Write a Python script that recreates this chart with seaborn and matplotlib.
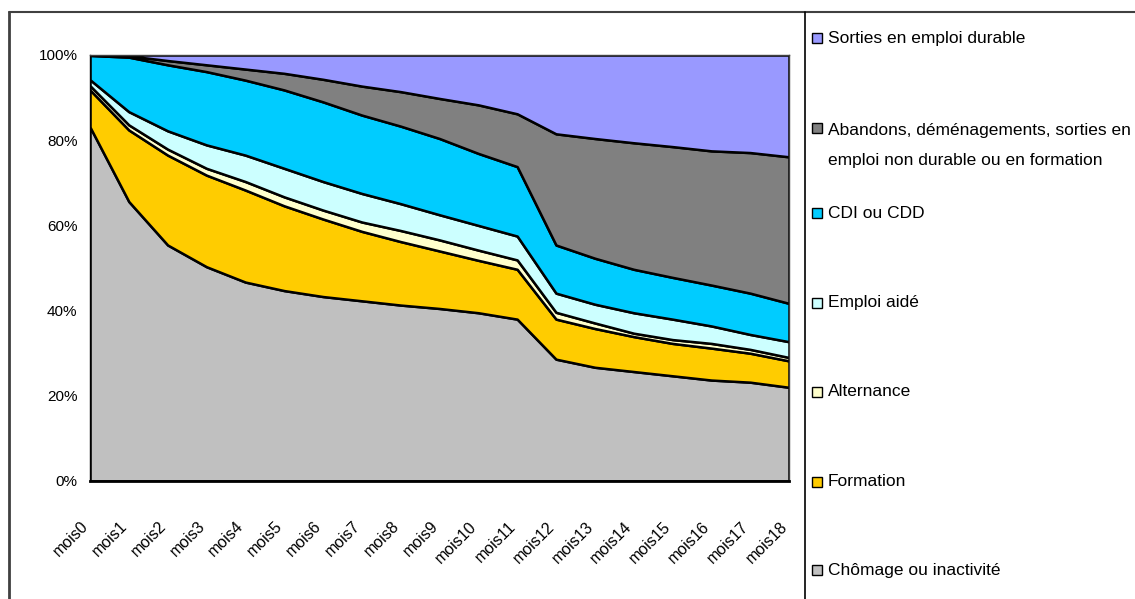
import matplotlib
matplotlib.use("Agg")
import matplotlib.pyplot as plt
import matplotlib.patches as mpatches
import matplotlib.transforms as mtransforms
from matplotlib.lines import Line2D
from matplotlib.ticker import PercentFormatter
import pandas as pd
import seaborn as sns

mois = ["mois" + str(i) for i in range(19)]

# parts en % (empilées du bas vers le haut)
chomage = [83.1, 65.6, 55.4, 50.3, 46.7, 44.7, 43.3, 42.3, 41.3, 40.5, 39.5, 38.0,
           28.6, 26.7, 25.7, 24.7, 23.7, 23.2, 22.0]
formation = [8.7, 16.8, 21.1, 21.5, 21.6, 19.9, 18.2, 16.3, 14.9, 13.5, 12.3, 11.7,
             9.4, 9.1, 8.2, 7.6, 7.5, 6.8, 6.2]
alternance = [1.0, 1.2, 1.4, 1.6, 2.0, 2.1, 2.1, 2.2, 2.6, 2.6, 2.4, 2.2,
              1.6, 1.3, 0.8, 0.9, 1.1, 0.9, 0.8]
emploi_aide = [1.4, 3.1, 4.3, 5.5, 6.2, 6.7, 6.7, 6.7, 6.3, 5.9, 5.8, 5.6,
               4.5, 4.4, 4.8, 4.8, 4.1, 3.5, 3.7]
cdi_cdd = [5.7, 12.8, 15.5, 17.2, 17.6, 18.4, 18.7, 18.4, 18.2, 17.9, 16.9, 16.3,
           11.3, 10.8, 10.2, 9.8, 9.6, 9.7, 9.0]
abandons = [0.1, 0.3, 1.0, 1.6, 2.6, 3.9, 5.3, 6.8, 8.1, 9.4, 11.4, 12.4,
            26.1, 28.1, 29.7, 30.7, 31.5, 33.0, 34.4]
sorties = [0.0, 0.2, 1.3, 2.3, 3.3, 4.3, 5.7, 7.3, 8.6, 10.2, 11.7, 13.8,
           18.5, 19.6, 20.6, 21.5, 22.5, 22.9, 23.9]

series = ["Chômage ou inactivité", "Formation", "Alternance", "Emploi aidé",
          "CDI ou CDD",
          "Abandons, déménagements, sorties en\nemploi non durable ou en formation",
          "Sorties en emploi durable"]
couleurs = ["#C0C0C0", "#FFCC00", "#FFFFCC", "#CCFFFF", "#00CCFF", "#808080", "#9999FF"]

df = pd.DataFrame({"mois": mois, series[0]: chomage, series[1]: formation,
                   series[2]: alternance, series[3]: emploi_aide, series[4]: cdi_cdd,
                   series[5]: abandons, series[6]: sorties})

sns.set_theme(style="white")
plt.rcParams["font.family"] = ["Liberation Sans", "DejaVu Sans"]

W, H = 1135, 599
fig = plt.figure(figsize=(W / 100, H / 100), dpi=100)
fig.patch.set_facecolor("white")
ax = fig.add_axes([90 / W, 118 / H, 699 / W, 426 / H])

x = list(range(len(mois)))
total = df[series].sum(axis=1)
parts = [df[s] / total * 100 for s in series]
ax.stackplot(x, parts, colors=couleurs, edgecolor="black", linewidth=1.8)

ax.set_xlim(0, len(mois) - 1)
ax.set_ylim(0, 100)
ax.set_yticks([0, 20, 40, 60, 80, 100])
ax.yaxis.set_major_formatter(PercentFormatter(decimals=0))
ax.set_xticks(x)
ax.set_xticklabels(mois, rotation=45, ha="right", va="center", rotation_mode="anchor")
ax.tick_params(axis="y", direction="out", length=4, width=1, color="black",
               pad=5, labelsize=11, labelcolor="black")
ax.tick_params(axis="x", direction="out", length=5, width=1, color="#808080",
               pad=26, labelsize=11.5, labelcolor="black")
decal = mtransforms.ScaledTranslation(-4 / 100, 0, fig.dpi_scale_trans)
for lab in ax.get_xticklabels():
    lab.set_transform(lab.get_transform() + decal)
ax.grid(False)
ax.set_xlabel("")
ax.set_ylabel("")
for s in ["top", "right"]:
    ax.spines[s].set_color("#404040")
    ax.spines[s].set_linewidth(1)
ax.spines["left"].set_color("black")
ax.spines["left"].set_linewidth(1)
ax.spines["bottom"].set_color("black")
ax.spines["bottom"].set_linewidth(2)

# cadre de l'image et séparation de la légende
fig.add_artist(Line2D([9 / W, 9 / W], [0, 1 - 12 / H], color="#404040", lw=2))
fig.add_artist(Line2D([9 / W, 1], [1 - 12 / H, 1 - 12 / H], color="#404040", lw=1.5))
fig.add_artist(Line2D([805 / W, 805 / W], [0, 1 - 12 / H], color="black", lw=1.2))

# légende à droite
pos_y = [570, 482, 392, 303, 213, 145.5, 38]
for nom, coul, yy in zip(series, couleurs, pos_y):
    if "\n" in nom:
        y_carre = yy - 17.5
    else:
        y_carre = yy
    fig.add_artist(mpatches.Rectangle((812 / W, 1 - (y_carre + 5) / H), 10 / W, 10 / H,
                                      facecolor=coul, edgecolor="black", lw=1,
                                      transform=fig.transFigure))
    fig.text(828 / W, 1 - yy / H, nom, ha="left", va="center", fontsize=12.5,
             color="black", linespacing=2.3)

fig.savefig("out.png", dpi=100)
